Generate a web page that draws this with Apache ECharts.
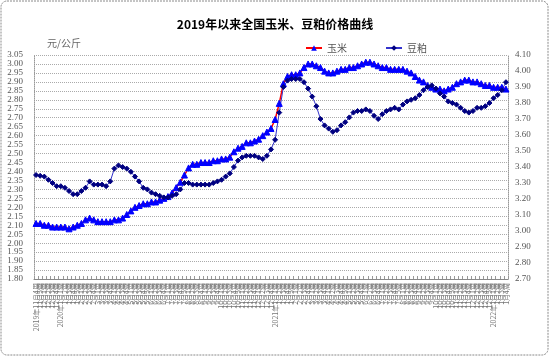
<!DOCTYPE html>
<html>
<head>
<meta charset="utf-8">
<script src="https://cdn.jsdelivr.net/npm/echarts@6/dist/echarts.min.js"></script>
<style>html,body{margin:0;padding:0;background:#fff;}#c{width:550px;height:357px;}</style>
</head>
<body>
<div id="c"></div>
<script>
var categories = [
"2019年11月4周","11月5周","12月1周","12月2周","12月3周","12月4周",
"2020年1月1周","1月2周","1月3周","1月4周","1月5周",
"2月1周","2月2周","2月3周","2月4周",
"3月1周","3月2周","3月3周","3月4周",
"4月1周","4月2周","4月3周","4月4周",
"5月1周","5月2周","5月3周","5月4周","5月5周",
"6月1周","6月2周","6月3周","6月4周",
"7月1周","7月2周","7月3周","7月4周","7月5周",
"8月1周","8月2周","8月3周","8月4周",
"9月1周","9月2周","9月3周","9月4周",
"10月1周","10月2周","10月3周","10月4周","10月5周",
"11月1周","11月2周","11月3周","11月4周",
"12月1周","12月2周","12月3周","12月4周",
"2021年1月1周","1月2周","1月3周","1月4周","1月5周",
"2月1周","2月2周","2月3周","2月4周",
"3月1周","3月2周","3月3周","3月4周",
"4月1周","4月2周","4月3周","4月4周","4月5周",
"5月1周","5月2周","5月3周","5月4周",
"6月1周","6月2周","6月3周","6月4周",
"7月1周","7月2周","7月3周","7月4周","7月5周",
"8月1周","8月2周","8月3周","8月4周",
"9月1周","9月2周","9月3周","9月4周",
"10月1周","10月2周","10月3周","10月4周","10月5周",
"11月1周","11月2周","11月3周","11月4周",
"12月1周","12月2周","12月3周","12月4周","12月5周",
"2022年1月1周","1月2周","1月3周","1月4周"
];
var cornPrice = [
2.11,2.11,2.10,2.10,2.09,2.09,2.09,2.09,2.08,2.09,
2.10,2.11,2.13,2.14,2.13,2.12,2.12,2.12,2.12,2.13,
2.13,2.14,2.16,2.18,2.20,2.21,2.22,2.22,2.23,2.23,
2.24,2.25,2.26,2.28,2.31,2.34,2.38,2.42,2.44,2.44,
2.45,2.45,2.45,2.46,2.46,2.47,2.47,2.48,2.51,2.53,
2.54,2.56,2.56,2.57,2.58,2.60,2.62,2.64,2.69,2.78,
2.89,2.93,2.94,2.94,2.95,2.98,3.00,3.00,2.99,2.98,
2.96,2.95,2.95,2.96,2.97,2.97,2.98,2.98,2.99,3.00,
3.01,3.01,3.00,2.99,2.98,2.98,2.97,2.97,2.97,2.97,
2.96,2.95,2.93,2.91,2.90,2.88,2.87,2.86,2.86,2.85,
2.86,2.87,2.89,2.90,2.91,2.91,2.90,2.90,2.89,2.88,
2.88,2.87,2.87,2.87,2.86
];
var soyPrice = [
3.35,3.345,3.34,3.32,3.30,3.28,3.28,3.27,3.25,3.23,
3.23,3.25,3.27,3.31,3.29,3.29,3.29,3.28,3.31,3.39,
3.41,3.40,3.39,3.37,3.34,3.31,3.27,3.26,3.24,3.23,
3.22,3.21,3.21,3.22,3.23,3.26,3.30,3.30,3.29,3.29,
3.29,3.29,3.29,3.30,3.31,3.32,3.34,3.36,3.40,3.44,
3.46,3.47,3.47,3.47,3.46,3.45,3.47,3.51,3.57,3.74,
3.90,3.94,3.95,3.95,3.95,3.93,3.89,3.84,3.78,3.70,
3.66,3.64,3.62,3.63,3.66,3.68,3.71,3.74,3.75,3.75,
3.76,3.75,3.72,3.70,3.73,3.75,3.76,3.77,3.76,3.79,
3.81,3.82,3.83,3.85,3.88,3.90,3.91,3.89,3.86,3.84,
3.81,3.80,3.79,3.77,3.75,3.74,3.75,3.77,3.77,3.78,
3.80,3.83,3.85,3.88,3.93
];
var leftTicks = {min: 1.8, max: 3.05, interval: 0.05};
var rightTicks = {min: 2.7, max: 4.1, interval: 0.1};

var chart = echarts.init(document.getElementById('c'), null, {renderer: 'canvas'});
var serif = 'Liberation Serif, DejaVu Serif, Noto Sans CJK SC';
function fmt(v) { return (Math.round(v * 100) / 100).toFixed(2); }
chart.setOption({
  animation: false,
  backgroundColor: '#ffffff',
  title: {
    text: '2019年以来全国玉米、豆粕价格曲线',
    left: 'center', top: 13,
    textStyle: {fontSize: 12, fontWeight: 'bold', color: '#000', fontFamily: 'Noto Sans CJK SC'}
  },
  legend: {
    top: 38, left: 300,
    itemGap: 38, itemWidth: 16, itemHeight: 7,
    textStyle: {fontSize: 10, color: '#555', fontFamily: 'Noto Sans CJK SC'},
    data: ['玉米', '豆粕']
  },
  graphic: [
    {type: 'rect', shape: {x: 1, y: 1, width: 547, height: 354, r: 6},
     style: {fill: 'none', stroke: '#8a8a8a', lineWidth: 1, lineDash: [2, 1]}, silent: true},
    {type: 'text', left: 47, top: 38,
     style: {text: '元/公斤', fontSize: 10, fill: '#666', fontFamily: 'Noto Sans CJK SC'}}
  ],
  grid: {left: 34, right: 42, top: 55, bottom: 78, show: false},
  xAxis: {
    type: 'category',
    data: categories,
    boundaryGap: true,
    axisLine: {show: true, lineStyle: {color: '#888', width: 1}},
    axisTick: {show: true, interval: 0, inside: true, length: 3, lineStyle: {color: '#999'}},
    axisLabel: {interval: 0, rotate: 90, fontSize: 7, color: '#777', margin: 4, fontFamily: 'Noto Sans CJK SC'},
    splitLine: {show: false}
  },
  yAxis: [
    {
      type: 'value', position: 'left',
      min: leftTicks.min, max: leftTicks.max, interval: leftTicks.interval,
      axisLine: {show: true, lineStyle: {color: '#999', type: 'dotted'}}, axisTick: {show: false},
      axisLabel: {formatter: fmt, showMinLabel: true, showMaxLabel: true, hideOverlap: false,
        fontSize: 9, lineHeight: 8, color: '#555', margin: 11, fontFamily: serif},
      splitLine: {show: true, lineStyle: {color: '#aaa', type: 'dotted', width: 1}}
    },
    {
      type: 'value', position: 'right',
      min: rightTicks.min, max: rightTicks.max, interval: rightTicks.interval,
      axisLine: {show: true, lineStyle: {color: '#999', type: 'dotted'}}, axisTick: {show: false},
      axisLabel: {formatter: fmt, showMinLabel: true, showMaxLabel: true, hideOverlap: false,
        fontSize: 9, lineHeight: 8, color: '#555', margin: 7, fontFamily: serif},
      splitLine: {show: false}
    }
  ],
  series: [
    {
      name: '玉米', type: 'line', yAxisIndex: 0, data: cornPrice,
      symbol: 'triangle', symbolSize: 6, showAllSymbol: true,
      lineStyle: {color: '#ff0000', width: 1.5},
      itemStyle: {color: '#0000ff', borderColor: '#0000ff'}
    },
    {
      name: '豆粕', type: 'line', yAxisIndex: 1, data: soyPrice,
      symbol: 'diamond', symbolSize: 5, showAllSymbol: true,
      lineStyle: {color: '#3333cc', width: 1},
      itemStyle: {color: '#000080', borderColor: '#000080'}
    }
  ]
});
</script>
</body>
</html>
